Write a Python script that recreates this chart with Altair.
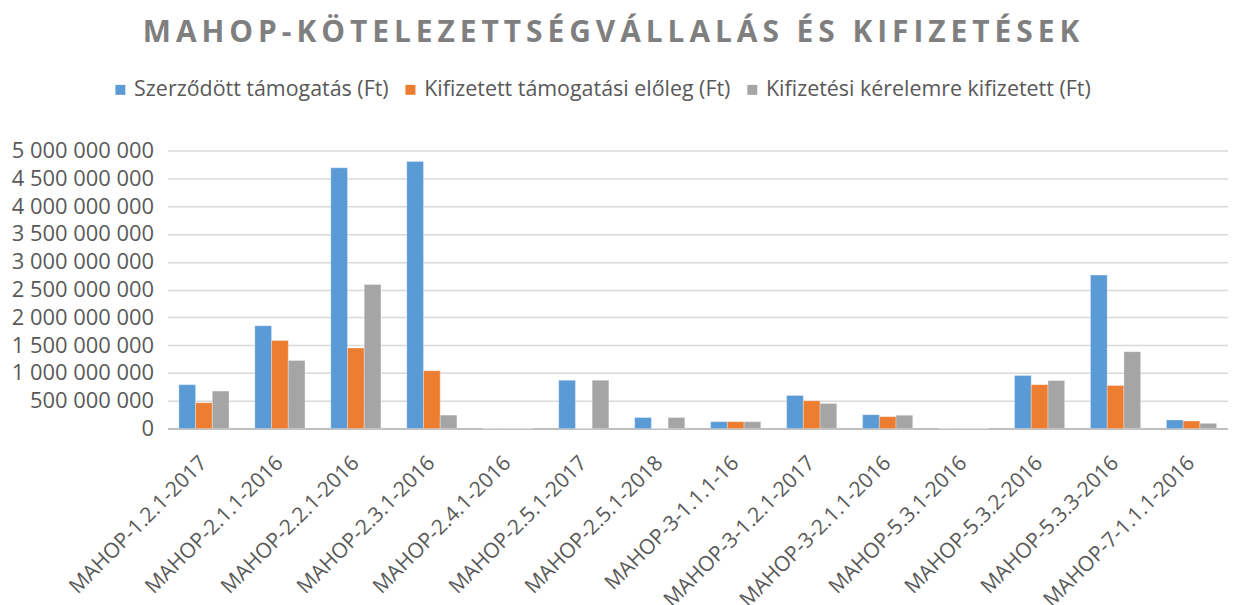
import altair as alt
import pandas as pd

categories = ["MAHOP-1.2.1-2017", "MAHOP-2.1.1-2016", "MAHOP-2.2.1-2016", "MAHOP-2.3.1-2016",
              "MAHOP-2.4.1-2016", "MAHOP-2.5.1-2017", "MAHOP-2.5.1-2018", "MAHOP-3-1.1.1-16",
              "MAHOP-3-1.2.1-2017", "MAHOP-3-2.1.1-2016", "MAHOP-5.3.1-2016", "MAHOP-5.3.2-2016",
              "MAHOP-5.3.3-2016", "MAHOP-7-1.1.1-2016"]
series = ["Szerződött támogatás (Ft)", "Kifizetett támogatási előleg (Ft)", "Kifizetési kérelemre kifizetett (Ft)"]
szerzodott = [790e6, 1850e6, 4690e6, 4805e6, 0, 870e6, 200e6, 125e6, 596e6, 250e6, 0, 955e6, 2760e6, 155e6]
eloleg = [465e6, 1585e6, 1450e6, 1040e6, 0, 0, 0, 125e6, 500e6, 215e6, 0, 790e6, 775e6, 136e6]
kerelem = [675e6, 1227e6, 2590e6, 243e6, 0, 870e6, 200e6, 125e6, 453e6, 240e6, 0, 864e6, 1383e6, 95e6]
colors = ["#5B9BD5", "#ED7D31", "#A5A5A5"]

rows = []
for i, c in enumerate(categories):
    for s, vals in zip(series, [szerzodott, eloleg, kerelem]):
        rows.append({"cat": c, "series": s, "value": vals[i]})
df = pd.DataFrame(rows)

title_text = "MAHOP-KÖTELEZETTSÉGVÁLLALÁS ÉS KIFIZETÉSEK"
spaced = "\u2009".join(title_text)

chart = alt.Chart(df).mark_bar(stroke="white", strokeWidth=0.5, strokeOpacity=0.6).encode(
    x=alt.X("cat:N", sort=categories, title=None,
            scale=alt.Scale(paddingInner=0.34, paddingOuter=0.15),
            axis=alt.Axis(labelAngle=-45, labelAlign="right", labelBaseline="middle",
                          labelFontSize=21, labelColor="#595959",
                          labelFont="Open Sans", ticks=False, domainColor="#BFBFBF",
                          domainWidth=2, labelPadding=31, labelLimit=400)),
    xOffset=alt.XOffset("series:N", sort=series),
    y=alt.Y("value:Q", title=None,
            scale=alt.Scale(domain=[0, 5e9], nice=False),
            axis=alt.Axis(values=[i * 5e8 for i in range(11)],
                          labelExpr="replace(format(datum.value, ','), /,/g, ' ')",
                          labelFontSize=22, labelColor="#595959", labelFont="Open Sans",
                          ticks=False, domain=False, gridColor="#D9D9D9", gridWidth=1.5,
                          labelPadding=14, minExtent=160, maxExtent=160)),
    color=alt.Color("series:N", sort=series,
                    scale=alt.Scale(domain=series, range=colors),
                    legend=alt.Legend(title=None, orient="none", direction="horizontal",
                                      legendX=-58, legendY=-72, symbolType="square",
                                      symbolSize=100, labelFontSize=21.5, labelColor="#595959",
                                      labelFont="Open Sans", columnPadding=10,
                                      symbolStrokeWidth=0, labelLimit=500, labelOffset=3)),
).properties(
    width=1064, height=279,
    padding={"top": 9, "left": 0, "right": 0, "bottom": 5},
    title=alt.TitleParams(spaced, fontSize=30, font="Open Sans", fontWeight="bold",
                          color="#7F7F7F", anchor="middle", frame="group", offset=31,
                          dx=-87),
).configure_view(stroke=None)

chart.save("out.html", embed_options={"renderer": "svg", "actions": False})
